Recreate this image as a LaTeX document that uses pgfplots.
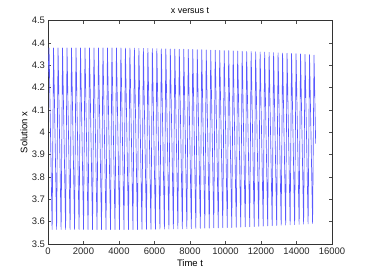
\documentclass[border=0pt]{standalone}
\usepackage{pgfplots}
\pgfplotsset{compat=1.18}
\usepackage{fontspec}
\setmainfont{Liberation Sans}
\begin{document}
\begin{tikzpicture}
\begin{axis}[
  at={(0,0)}, anchor=south west,
  scale only axis, width=284bp, height=223.3bp,
  xmin=0, xmax=16000, ymin=3.5, ymax=4.5,
  xtick={0,2000,...,16000},
  ytick={3.5,3.6,3.7,3.8,3.9,4,4.1,4.2,4.3,4.4,4.5},
  scaled x ticks=false,
  /pgf/number format/1000 sep={},
  /pgf/number format/assume math mode=true,
  tick align=inside, major tick length=3bp,
  tick style={black!70, line width=0.5bp},
  axis line style={black!80, line width=0.6bp},
  ticklabel style={font=\fontsize{9.5}{11}\selectfont, text=black!85},
  xticklabel style={yshift=-0.5bp},
  yticklabel style={xshift=0.5bp},
  every axis x label/.style={at={(axis description cs:0.5,0)}, yshift=-19bp, anchor=center, font=\fontsize{9.5}{11}\selectfont},
  every axis y label/.style={at={(axis description cs:0,0.5)}, xshift=-24bp, rotate=90, anchor=center, font=\fontsize{9.5}{11}\selectfont},
  every axis title/.style={at={(axis description cs:0.5,1)}, yshift=10.5bp, anchor=center, font=\fontsize{9}{10}\selectfont},
  xlabel={Time t}, ylabel={Solution x}, title={x versus t},
]
\addplot[blue!65, line width=0.65bp, line join=round] table {
t x
0 4.250
60 4.378
233 3.565
313 4.378
486 3.565
566 4.378
739 3.565
819 4.378
992 3.565
1072 4.378
1245 3.565
1325 4.378
1498 3.565
1578 4.378
1751 3.565
1831 4.378
2004 3.565
2084 4.378
2257 3.565
2337 4.378
2510 3.565
2590 4.378
2763 3.565
2843 4.378
3016 3.565
3096 4.378
3269 3.565
3349 4.378
3522 3.565
3602 4.378
3775 3.565
3855 4.378
4028 3.565
4108 4.378
4281 3.565
4361 4.377
4534 3.565
4614 4.377
4787 3.565
4867 4.377
5040 3.565
5120 4.376
5293 3.566
5373 4.376
5546 3.566
5626 4.376
5799 3.566
5879 4.375
6052 3.566
6132 4.375
6305 3.567
6385 4.374
6558 3.567
6638 4.374
6811 3.567
6891 4.373
7064 3.568
7144 4.373
7317 3.568
7397 4.372
7570 3.568
7650 4.372
7823 3.569
7903 4.371
8076 3.569
8156 4.371
8329 3.570
8409 4.370
8582 3.570
8662 4.370
8835 3.571
8915 4.369
9088 3.571
9168 4.368
9341 3.572
9421 4.368
9594 3.572
9674 4.367
9847 3.573
9927 4.366
10100 3.574
10180 4.366
10353 3.574
10433 4.365
10606 3.575
10686 4.364
10859 3.576
10939 4.363
11112 3.577
11192 4.362
11365 3.577
11445 4.362
11618 3.578
11698 4.361
11871 3.579
11951 4.360
12124 3.580
12204 4.359
12377 3.581
12457 4.358
12630 3.582
12710 4.357
12883 3.583
12963 4.356
13136 3.584
13216 4.355
13389 3.585
13469 4.354
13642 3.586
13722 4.353
13895 3.587
13975 4.352
14148 3.588
14228 4.351
14401 3.589
14481 4.349
14654 3.590
14734 4.348
14907 3.592
14987 4.346
15080 3.950
};
\end{axis}
\pgfresetboundingbox
\path (-48bp,-31bp) rectangle (318bp,244bp);
\end{tikzpicture}
\end{document}
